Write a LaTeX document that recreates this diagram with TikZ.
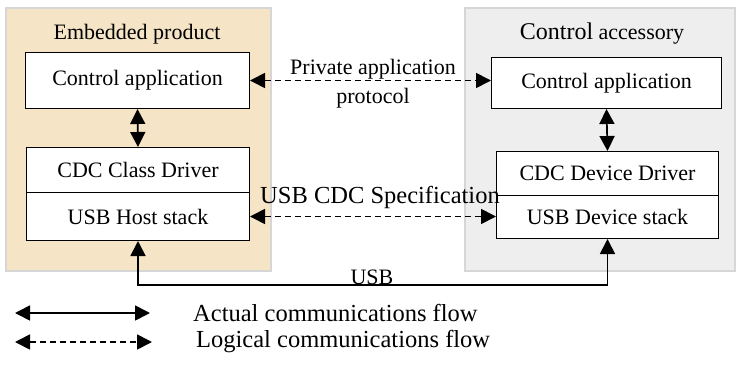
\documentclass[tikz,border=0pt]{standalone}
\usepackage{fontspec}
\setmainfont{Liberation Serif}
\usetikzlibrary{arrows.meta}
\definecolor{beige}{HTML}{F5E4C6}
\definecolor{panelgray}{HTML}{EEEEEE}
\definecolor{panelborder}{HTML}{D6D6D6}
\begin{document}
\begin{tikzpicture}[x=1pt,y=-1pt,
 panel/.style={draw=panelborder, line width=1.5pt, anchor=north west, inner sep=0pt},
 box/.style={draw=black, line width=1pt, fill=white, font=\fontsize{22}{26}\selectfont, inner sep=0pt, anchor=north west},
 lbl/.style={font=\fontsize{22}{26}\selectfont, inner sep=0pt},
 biglbl/.style={font=\fontsize{24.5}{28}\selectfont, inner sep=0pt},
 realflow/.style={line width=1.7pt, {Triangle[length=15pt,width=15pt]}-{Triangle[length=15pt,width=15pt]}},
 logicflow/.style={realflow, dash pattern=on 6pt off 4pt}]
\useasboundingbox (0,0) rectangle (736,367);
% panels
\node[panel, fill=beige, minimum width=265pt, minimum height=263pt] (lp) at (5,7) {};
\node[panel, fill=panelgray, minimum width=270pt, minimum height=263pt] (rp) at (464,7) {};
\node[lbl] (lptitle) at (137,34) {Embedded product};
\node[lbl] (rptitle) at (602,34) {{\fontsize{24}{28}\selectfont Control} accessory};
% boxes
\node[box, minimum width=224pt, minimum height=56pt] (lca) at (25,52) {Control application};
\node[box, minimum width=223pt, minimum height=45pt] (cdc) at (26,147) {CDC Class Driver};
\node[box, minimum width=223pt, minimum height=48pt] (uhs) at (26,192) {USB Host stack};
\node[box, minimum width=230pt, minimum height=51pt] (rca) at (491,57) {Control application};
\node[box, minimum width=222pt, minimum height=44pt] (cdd) at (496,151) {CDC Device Driver};
\node[box, minimum width=222pt, minimum height=43pt] (uds) at (496,195) {USB Device stack};
% connectors
\draw[realflow] (lca.south) -- (cdc.north);
\draw[realflow] (rca.south) -- (cdd.north);
\draw[logicflow] (lca.east) -- (lca.east -| rca.west);
\draw[logicflow] (uhs.east) -- (uhs.east -| uds.west);
\coordinate (usbline) at (0,285);
\draw[realflow] (uhs.south) |- (usbline -| uds.south) -- (uds.south);
% labels
\node[lbl] (pap) at (373,69) {Private application};
\node[lbl] (proto) at (373,98) {protocol};
\node[biglbl] (cdcspec) at (380,197) {USB CDC Specification};
\node[lbl] (usb) at (372,277) {USB};
% legend
\coordinate (a1) at (15,313);
\coordinate (a2) at (150,313);
\coordinate (b1) at (15,342);
\coordinate (b2) at (152,342);
\draw[realflow] (a1) -- (a2);
\draw[logicflow] (b1) -- (b2);
\node[biglbl, anchor=west] (actual) at (193,313) {Actual communications flow};
\node[biglbl, anchor=west] (logical) at (196,342) {Logical communications flow};
\end{tikzpicture}
\end{document}
